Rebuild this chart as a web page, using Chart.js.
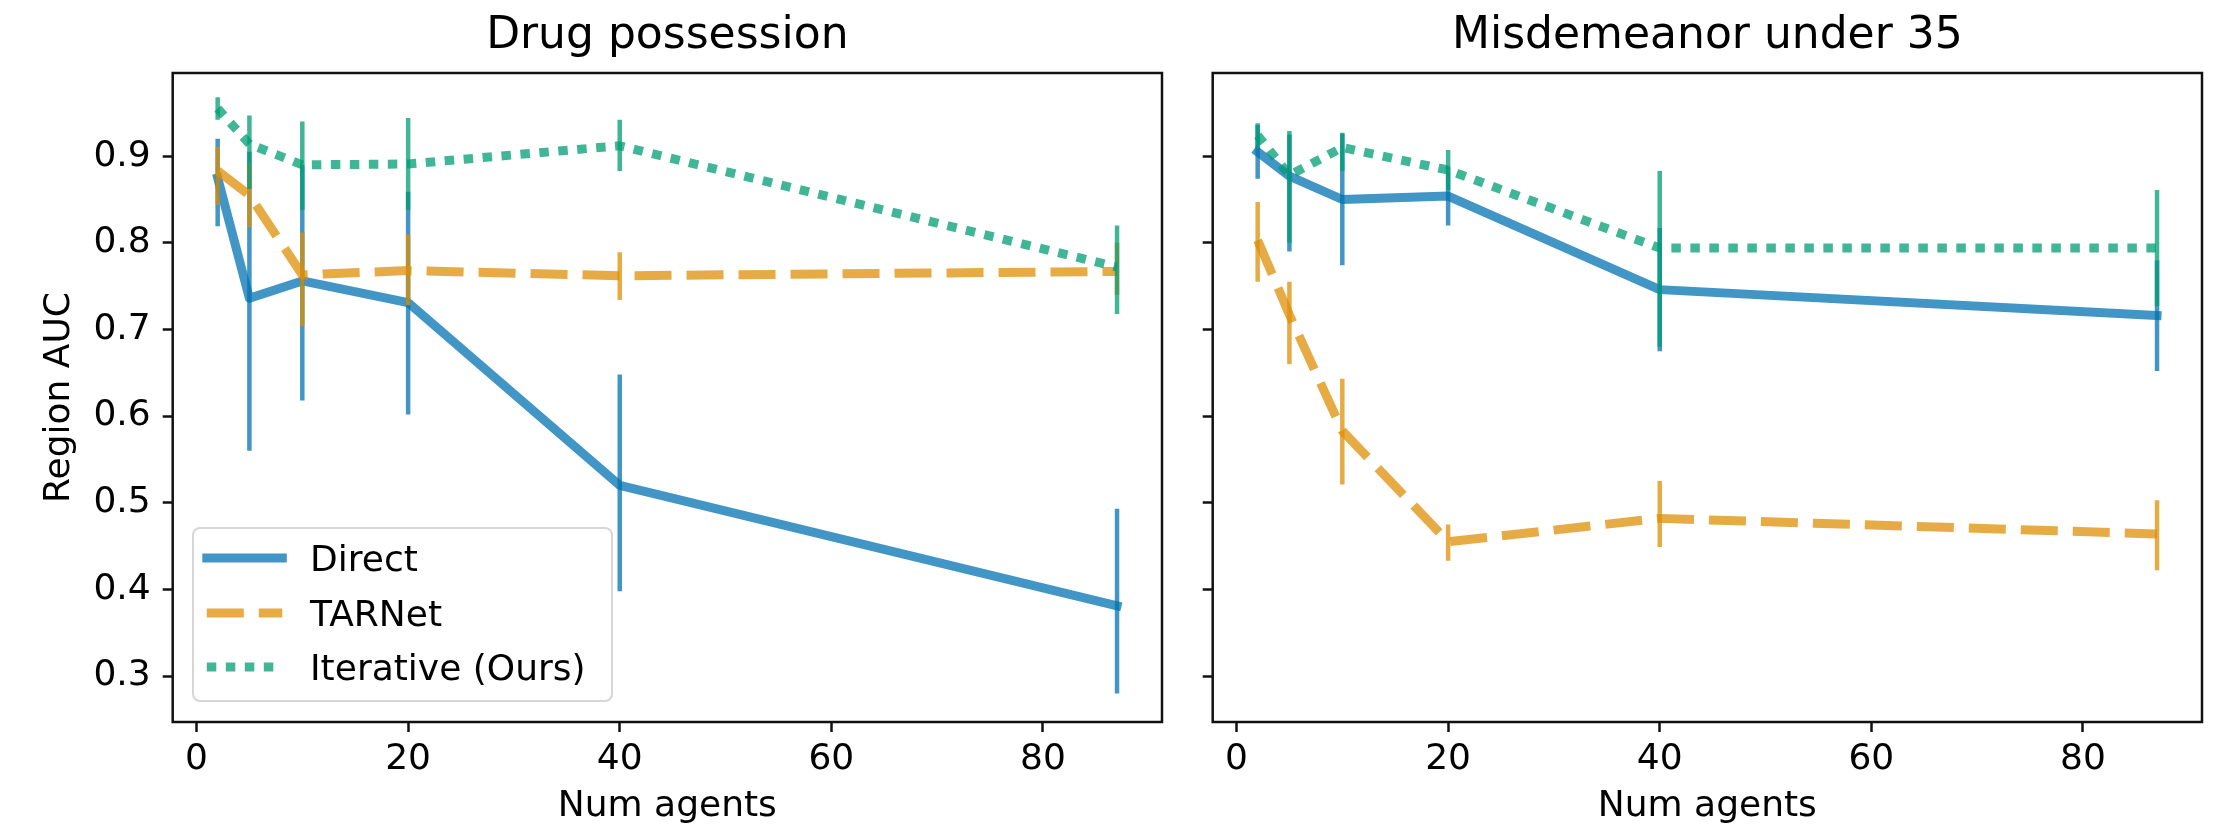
<!DOCTYPE html>
<html>
<head>
<meta charset="utf-8">
<script src="https://cdn.jsdelivr.net/npm/chart.js@4.4.1/dist/chart.umd.min.js"></script>
<style>
  html, body { margin: 0; padding: 0; background: #fff; width: 2213px; height: 831px; overflow: hidden; font-family: 'DejaVu Sans', sans-serif; }
  #c1 { position: absolute; left: 0; top: 0; }
  #c2 { position: absolute; left: 1190px; top: 0; }
  #legend { position: absolute; left: 192px; top: 527px; width: 417px; height: 171px;
            border: 2px solid rgba(204,204,204,0.8); border-radius: 8px; background: rgba(255,255,255,0.8); }
  .lrow-svg { position: absolute; left: 8px; }
  .lrow-txt { position: absolute; left: 116px; height: 36px; line-height: 36px; font-size: 36px; color: #000; white-space: nowrap; font-family: 'DejaVu Sans', sans-serif; }
</style>
</head>
<body>
<canvas id="c1" width="1190" height="831"></canvas>
<canvas id="c2" width="1023" height="831"></canvas>
<div id="legend"></div>
<script>
// ---------------- data ----------------
const agents = [2, 5, 10, 20, 40, 87];
const xTicks = [0, 20, 40, 60, 80];
const yTicks = [0.3, 0.4, 0.5, 0.6, 0.7, 0.8, 0.9];
const panelTitles = ['Drug possession', 'Misdemeanor under 35'];
const seriesNames = ['Direct', 'TARNet', 'Iterative (Ours)'];
const xLabel = 'Num agents';
const yLabel = 'Region AUC';

// Drug possession
const drugDirect   = [0.875, 0.736, 0.756, 0.731, 0.520, 0.381];
const drugDirectLo = [0.819, 0.560, 0.618, 0.602, 0.398, 0.280];
const drugDirectHi = [0.920, 0.905, 0.890, 0.859, 0.648, 0.493];
const drugTarnet   = [0.883, 0.855, 0.763, 0.768, 0.762, 0.767];
const drugTarnetLo = [0.844, 0.818, 0.704, 0.728, 0.734, 0.740];
const drugTarnetHi = [0.911, 0.892, 0.812, 0.810, 0.789, 0.800];
const drugIter     = [0.955, 0.914, 0.890, 0.891, 0.912, 0.772];
const drugIterLo   = [0.942, 0.862, 0.838, 0.838, 0.883, 0.718];
const drugIterHi   = [0.968, 0.947, 0.940, 0.944, 0.942, 0.820];

// Misdemeanor under 35
const misDirect   = [0.905, 0.877, 0.850, 0.854, 0.746, 0.716];
const misDirectLo = [0.874, 0.790, 0.774, 0.820, 0.675, 0.652];
const misDirectHi = [0.936, 0.925, 0.926, 0.888, 0.817, 0.780];
const misTarnet   = [0.803, 0.717, 0.583, 0.455, 0.482, 0.464];
const misTarnetLo = [0.755, 0.660, 0.521, 0.433, 0.449, 0.422];
const misTarnetHi = [0.847, 0.755, 0.643, 0.475, 0.525, 0.503];
const misIter     = [0.924, 0.878, 0.910, 0.884, 0.794, 0.794];
const misIterLo   = [0.909, 0.800, 0.883, 0.861, 0.680, 0.727];
const misIterHi   = [0.938, 0.929, 0.927, 0.907, 0.883, 0.861];

// ---------------- styles ----------------
const FONT = "'DejaVu Sans', sans-serif";
const COLORS = ['rgba(1,115,178,0.75)', 'rgba(222,143,5,0.75)', 'rgba(2,158,115,0.75)'];
const DASHES = [[], [37, 15], [9.5, 9.5]];
const CAPS = ['square', 'butt', 'butt'];
const LINE_W = 9, ERR_W = 4.5;

function pts(ys) { return agents.map((x, i) => ({ x: x, y: ys[i] })); }
function errPts(lo, hi) {
  const out = [];
  agents.forEach((x, i) => { out.push({ x: x, y: lo[i] }, { x: x, y: hi[i] }, { x: x, y: null }); });
  return out;
}

function panelDatasets(means, los, his) {
  const ds = [];
  let order = 6;
  for (let s = 0; s < 3; s++) {
    ds.push({
      label: seriesNames[s], data: pts(means[s]),
      borderColor: COLORS[s], backgroundColor: COLORS[s], borderWidth: LINE_W,
      borderDash: DASHES[s], borderCapStyle: CAPS[s], borderJoinStyle: 'round',
      pointRadius: 0, pointHoverRadius: 0, tension: 0, fill: false, order: order--
    });
    ds.push({
      label: seriesNames[s] + ' error', data: errPts(los[s], his[s]),
      borderColor: COLORS[s], borderWidth: ERR_W, borderCapStyle: 'butt',
      pointRadius: 0, pointHoverRadius: 0, spanGaps: false, tension: 0, fill: false, order: order--
    });
  }
  return ds;
}

const framePlugin = {
  id: 'frame',
  afterDatasetsDraw(chart) {
    const { ctx, chartArea: a } = chart;
    ctx.save();
    ctx.strokeStyle = '#111';
    ctx.lineWidth = 2.5;
    ctx.strokeRect(a.left, a.top, a.right - a.left, a.bottom - a.top);
    ctx.restore();
  }
};

function makeChart(canvasId, p, datasets) {
  const left = p === 0;
  return new Chart(document.getElementById(canvasId), {
    type: 'line',
    data: { datasets: datasets },
    options: {
      responsive: false, maintainAspectRatio: false, animation: false, devicePixelRatio: 1,
      layout: { padding: { left: 0, right: left ? 28 : 11, top: 0, bottom: 0 } },
      plugins: {
        legend: { display: false },
        tooltip: { enabled: false },
        title: {
          display: true, text: panelTitles[p], fullSize: false, color: '#000',
          font: { family: FONT, size: 44, weight: 'normal' },
          padding: { top: 10.1, bottom: 10.1 }
        }
      },
      scales: {
        x: {
          type: 'linear', min: -2.25, max: 91.25,
          afterBuildTicks: s => { s.ticks = xTicks.map(v => ({ value: v })); },
          afterFit: s => { s.height = 109; },
          ticks: { color: '#000', font: { family: FONT, size: 36 }, padding: 6, maxRotation: 0, autoSkip: false,
                   callback: v => String(v) },
          grid: { display: true, drawOnChartArea: false, drawTicks: true, tickLength: 10, tickWidth: 2.5, tickColor: '#111' },
          border: { display: false },
          title: { display: true, text: xLabel, color: '#000', font: { family: FONT, size: 36 }, padding: { top: 0, bottom: 2.9 } }
        },
        y: {
          type: 'linear', min: 0.247, max: 0.996,
          afterBuildTicks: s => { s.ticks = yTicks.map(v => ({ value: v })); },
          afterFit: s => { s.width = left ? 172.7 : 22.7; },
          ticks: { display: left, color: '#000', font: { family: FONT, size: 36 }, padding: 12, autoSkip: false,
                   callback: v => Number(v).toFixed(1) },
          grid: { display: true, drawOnChartArea: false, drawTicks: true, tickLength: 10, tickWidth: 2.5, tickColor: '#111' },
          border: { display: false },
          title: { display: left, text: yLabel, color: '#000', font: { family: FONT, size: 36 }, padding: { top: 37.6, bottom: 0 } }
        }
      }
    },
    plugins: [framePlugin]
  });
}

makeChart('c1', 0, panelDatasets([drugDirect, drugTarnet, drugIter], [drugDirectLo, drugTarnetLo, drugIterLo], [drugDirectHi, drugTarnetHi, drugIterHi]));
makeChart('c2', 1, panelDatasets([misDirect, misTarnet, misIter], [misDirectLo, misTarnetLo, misIterLo], [misDirectHi, misTarnetHi, misIterHi]));

// ---------------- legend (HTML, built from the series arrays) ----------------
const legend = document.getElementById('legend');
const rowCenters = [29, 84, 138];
seriesNames.forEach((name, s) => {
  const svgNS = 'http://www.w3.org/2000/svg';
  const svg = document.createElementNS(svgNS, 'svg');
  svg.setAttribute('width', '86'); svg.setAttribute('height', '14');
  svg.setAttribute('class', 'lrow-svg');
  svg.style.top = (rowCenters[s] - 7) + 'px';
  const ln = document.createElementNS(svgNS, 'line');
  ln.setAttribute('x1', '4.8'); ln.setAttribute('x2', '80.3');
  ln.setAttribute('y1', '7'); ln.setAttribute('y2', '7');
  ln.setAttribute('stroke', COLORS[s]);
  ln.setAttribute('stroke-width', String(LINE_W));
  ln.setAttribute('stroke-linecap', CAPS[s]);
  if (DASHES[s].length) ln.setAttribute('stroke-dasharray', DASHES[s].join(' '));
  svg.appendChild(ln);
  legend.appendChild(svg);
  const t = document.createElement('div');
  t.className = 'lrow-txt';
  t.style.top = (rowCenters[s] - 17.3) + 'px';
  t.textContent = name;
  legend.appendChild(t);
});
</script>
</body>
</html>
